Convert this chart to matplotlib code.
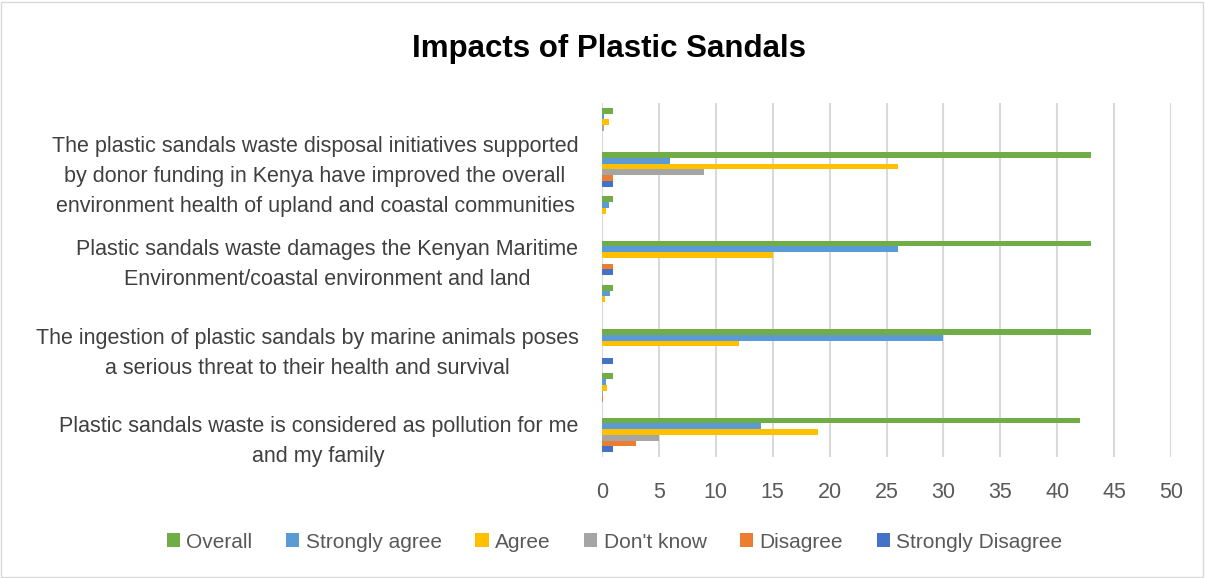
import matplotlib
matplotlib.use("Agg")
import matplotlib.pyplot as plt
from matplotlib.patches import Rectangle
import numpy as np

plt.rcParams['font.family'] = ['Liberation Sans', 'DejaVu Sans']

# categories bottom to top; percentage rows have no label
categories = [
    "Plastic sandals waste is considered as pollution for me\nand my family",
    "",
    "The ingestion of plastic sandals by marine animals poses\na serious threat to their health and survival",
    "",
    "Plastic sandals waste damages the Kenyan Maritime\nEnvironment/coastal environment and land",
    "",
    "The plastic sandals waste disposal initiatives supported\nby donor funding in Kenya have improved the overall\nenvironment health of upland and coastal communities",
    "",
]

# series values (count row, then share row, for each statement)
strongly_disagree = [1, 0.02, 1, 0.02, 1, 0.02, 1, 0.02]
disagree = [3, 0.07, 0, 0, 1, 0.02, 1, 0.02]
dont_know = [5, 0.12, 0, 0, 0, 0, 9, 0.21]
agree = [19, 0.45, 12, 0.28, 15, 0.35, 26, 0.6]
strongly_agree = [14, 0.33, 30, 0.7, 26, 0.6, 6, 0.14]
overall = [42, 1, 43, 1, 43, 1, 43, 1]

series = [
    ("Strongly Disagree", strongly_disagree, "#4472C4"),
    ("Disagree", disagree, "#ED7D31"),
    ("Don't know", dont_know, "#A5A5A5"),
    ("Agree", agree, "#FFC000"),
    ("Strongly agree", strongly_agree, "#5B9BD5"),
    ("Overall", overall, "#70AD47"),
]

fig = plt.figure(figsize=(12.05, 5.78), dpi=100)
ax = fig.add_axes([0.4996, 0.2093, 0.4722, 0.6125])

y = np.arange(len(categories))
h = 0.13
handles = {}
for i, (name, vals, col) in enumerate(series):
    off = (i - 2.5) * h
    handles[name] = ax.barh(y + off, vals, height=h, color=col, label=name)

ax.set_xlim(0, 50)
ax.set_ylim(-0.5, 7.5)
ax.set_xticks(np.arange(0, 51, 5))
ax.set_yticks(y)
ax.set_yticklabels(categories, multialignment='center', linespacing=1.55)
ax.tick_params(axis='x', length=0, pad=18, labelsize=15.5, labelcolor='#595959')
ax.tick_params(axis='y', length=0, pad=17, labelsize=15.5, labelcolor='#404040')
ax.grid(axis='x', color='#D9D9D9', linewidth=1.5)
ax.set_axisbelow(True)
for s in ax.spines.values():
    s.set_visible(False)

fig.text(0.505, 0.915, "Impacts of Plastic Sandals", ha='center', va='center',
         fontsize=22.5, fontweight='bold', color='black')

order = ["Overall", "Strongly agree", "Agree", "Don't know", "Disagree", "Strongly Disagree"]
fig.legend([handles[n] for n in order], order, loc='center', bbox_to_anchor=(0.51, 0.062),
           ncol=6, frameon=False, fontsize=15, labelcolor='#595959',
           handlelength=0.65, handleheight=0.65, handletextpad=0.3, columnspacing=1.6)

fig.patches.append(Rectangle((0.001, 0.002), 0.997, 0.995, transform=fig.transFigure,
                             fill=False, edgecolor='#D9D9D9', linewidth=1))

fig.savefig("out.png", dpi=100)
